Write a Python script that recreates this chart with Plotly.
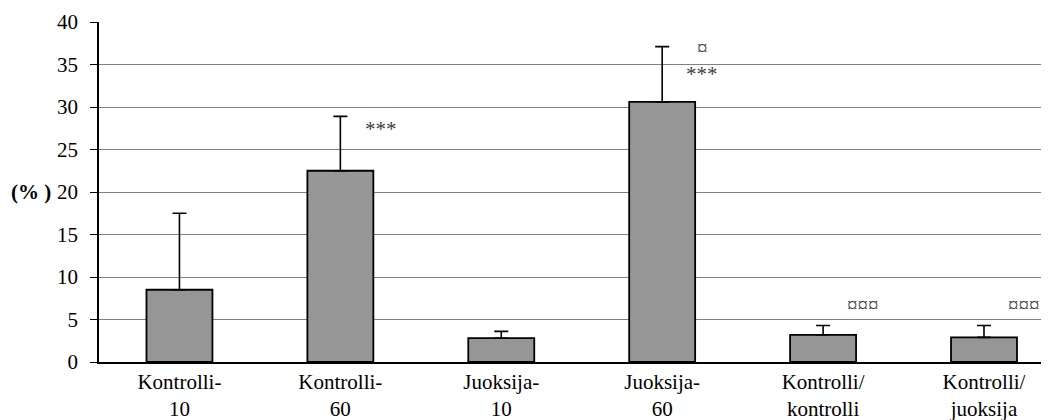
import plotly.graph_objects as go

categories = ["Kontrolli-<br>10", "Kontrolli-<br>60", "Juoksija-<br>10", "Juoksija-<br>60",
              "Kontrolli/<br>kontrolli", "Kontrolli/<br>juoksija"]
values = [8.5, 22.5, 2.8, 30.6, 3.2, 2.9]
errors = [9.0, 6.4, 0.8, 6.5, 1.1, 1.4]
y_ticks = [0, 5, 10, 15, 20, 25, 30, 35, 40]

# significance marks: (category index, y value, text)
marks_idx = [1, 3, 3, 4, 5]
marks_y = [27.4, 33.9, 37.0, 6.7, 6.7]
marks_txt = ["***", "***", "¤", "¤¤¤", "¤¤¤"]

SERIF = "Liberation Serif"

idx = list(range(len(categories)))

fig = go.Figure()
fig.add_trace(go.Bar(
    x=idx, y=values, width=0.41,
    marker=dict(color="#969696", line=dict(color="black", width=1.8)),
    error_y=dict(type="data", array=errors, symmetric=False,
                 arrayminus=[0] * len(values),
                 color="black", thickness=1.6, width=7),
))

for i, yv, t in zip(marks_idx, marks_y, marks_txt):
    fig.add_annotation(x=i + 0.25, y=yv, text=t, showarrow=False,
                       xref="x", yref="y",
                       font=dict(family=SERIF, size=21, color="#404040"))

fig.add_annotation(xref="paper", yref="paper", x=-0.095, y=0.5,
                   xanchor="left", yanchor="middle", text="<b>(% )</b>",
                   showarrow=False, font=dict(family=SERIF, size=21))

fig.update_layout(
    template="none",
    width=1049, height=420,
    margin=dict(l=91, r=8, t=14, b=66, autoexpand=False),
    paper_bgcolor="white", plot_bgcolor="white",
    showlegend=False,
    font=dict(family=SERIF, size=21, color="black"),
    xaxis=dict(range=[-0.5, 5.404], tickvals=idx, ticktext=categories,
               showgrid=False, zeroline=False, showline=True, linecolor="black", linewidth=1.5,
               ticks=""),
    yaxis=dict(range=[0, 40], tickvals=y_ticks,
               showgrid=True, gridcolor="#808080", gridwidth=1,
               zeroline=False, showline=True, linecolor="black", linewidth=1.5,
               ticks="outside", ticklen=7, tickcolor="black", tickwidth=1.2,
               ticklabelstandoff=8),
)

post_js = """
var st = document.createElement('style');
st.textContent = '.js-plotly-plot svg text { font-family: "Liberation Serif", "Times New Roman", Tinos, "DejaVu Serif", serif !important; }';
document.head.appendChild(st);
var gd = document.getElementById('{plot_id}');
Plotly.newPlot(gd, gd.data, gd.layout, {responsive: false});
"""

fig.write_html("out.html", post_script=post_js)
